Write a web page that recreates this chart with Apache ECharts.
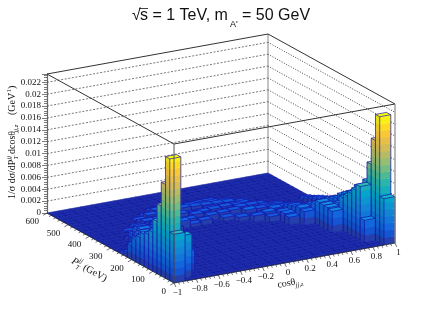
<!DOCTYPE html>
<html><head><meta charset="utf-8">
<style>html,body{margin:0;padding:0;background:#fff}#c{width:443px;height:318px}</style>
<script src="https://cdn.jsdelivr.net/npm/echarts@6/dist/echarts.min.js"></script></head>
<body><div id="c"></div>
<script>
// bin heights in units of 1e-4, index = pT bin (20 GeV each), one array per cos bin
const cosBin00=[82,205,158,118,88,66,58,54,45,37,24,8,2];
const cosBin01=[0,72,62,50,44,40,40,42,40,40,42,36,24,6];
const cosBin02=[0,0,0,34,38,38,36,34,32,30,30,30,32,32,28,16,4];
const cosBin03=[0,0,0,0,0,0,0,0,0,0,0,12,18,16,14,10,8,5,3,2];
const cosBin04=[0,0,0,0,0,0,0,0,0,0,0,0,0,10,14,12,9,11,7,5,2];
const cosBin05=[0,0,0,0,0,0,0,0,0,0,0,0,0,0,0,8,12,7,10,6,8,3,2];
const cosBin06=[0,0,0,0,0,0,0,0,0,0,0,0,0,0,0,0,9,6,11,5,8,4,7,2];
const cosBin07=[0,0,0,0,0,0,0,0,0,0,0,0,0,0,0,0,0,13,7,4,9,6,5,8,3];
const cosBin08=[0,0,0,0,0,0,0,0,0,0,0,0,0,0,0,0,0,5,9,3,10,4,7,6,3];
const cosBin09=[0,0,0,0,0,0,0,0,0,0,0,0,0,0,0,0,0,8,4,10,6,3,9,5,2];
const cosBin10=[0,0,0,0,0,0,0,0,0,0,0,0,0,0,0,0,0,0,9,5,7,3,8,6,2];
const cosBin11=[0,0,0,0,0,0,0,0,0,0,0,0,0,0,0,0,0,6,10,3,8,5,7,4,2];
const cosBin12=[0,0,0,0,0,0,0,0,0,0,0,0,0,0,0,0,7,4,11,6,9,3,6,4,2];
const cosBin13=[0,0,0,0,0,0,0,0,0,0,0,0,0,0,0,10,6,12,5,9,7,4,5,2];
const cosBin14=[0,0,0,0,0,0,0,0,0,0,0,0,0,0,9,13,7,11,6,9,5,4,2];
const cosBin15=[0,0,0,0,0,0,0,0,0,0,0,0,13,15,14,10,12,9,6,4,3];
const cosBin16=[0,0,0,0,0,0,0,0,0,0,0,23,25,22,20,15,12,8,6,3];
const cosBin17=[0,0,0,0,0,0,0,36,38,38,39,32,28,20,14,10,6,4,2];
const cosBin18=[0,0,37,90,80,70,62,55,42,36,30,24,18,13,9,6,3,2];
const cosBin19=[78,212,168,124,91,70,74,61,56,50,44,35,30,26,20,17,14,10,6,3];
const cosBins=[cosBin00,cosBin01,cosBin02,cosBin03,cosBin04,cosBin05,cosBin06,cosBin07,cosBin08,cosBin09,cosBin10,cosBin11,cosBin12,cosBin13,cosBin14,cosBin15,cosBin16,cosBin17,cosBin18,cosBin19];
const cosTicks=[-1,-0.8,-0.6,-0.4,-0.2,0,0.2,0.4,0.6,0.8,1];
const ptTicks=[0,100,200,300,400,500,600];
const zTicks=[0.002,0.004,0.006,0.008,0.01,0.012,0.014,0.016,0.018,0.02,0.022];
const zMax=0.0234, ptMax=600, nCos=20, nPt=30;

const birdR=[.2082,.0592,.0780,.0232,.1802,.5301,.8186,.9956,.9764];
const birdG=[.1664,.3599,.5041,.6419,.7178,.7492,.7328,.7862,.9832];
const birdB=[.5293,.8684,.8385,.7914,.6425,.4662,.3499,.1968,.0539];
function bird(t,f){t=Math.min(1,Math.max(0,t))*8;const i=Math.min(7,Math.floor(t)),a=t-i;
  const m=(s)=>Math.min(255,Math.round((s[i]+(s[i+1]-s[i])*a)*255*f));
  return 'rgb('+m(birdR)+','+m(birdG)+','+m(birdB)+')';}

function project(api,c,p,z){const q=api.coord([c,z]);return [q[0]-127*p/ptMax,q[1]-40*(c+1)/2-70*p/ptMax];}
const barData=[];
for(let r=nPt-1;r>=0;r--)for(let c=nCos-1;c>=0;c--)barData.push([c,r,(cosBins[c][r]||0)*1e-4]);

const EDGE='#1414a8', FLOOR='#1c2cac', FLOOREDGE='#0c1696';
function renderBar(params,api){
  const i=api.value(0),r=api.value(1),v=api.value(2);
  const dc=2/nCos,dp=ptMax/nPt,c0=-1+i*dc,c1=c0+dc,p0=r*dp,p1=p0+dp;
  const P=(c,p,z)=>project(api,c,p,z);
  const kids=[];
  if(v<=0){
    kids.push({type:'polygon',shape:{points:[P(c0,p0,0),P(c1,p0,0),P(c1,p1,0),P(c0,p1,0)]},style:{fill:FLOOR,stroke:FLOOREDGE,lineWidth:.6}});
    return {type:'group',children:kids};
  }
  const dz=zMax/20,top=Math.floor(v/dz);
  for(let k=0;k<=top;k++){
    const a=k*dz,b=Math.min(v,(k+1)*dz);const t=(k+1)/18.5;
    if(b<=a)continue;
    const cf=bird(t,1), cl=bird(t,.92);
    kids.push({type:'polygon',shape:{points:[P(c0,p1,a),P(c0,p0,a),P(c0,p0,b),P(c0,p1,b)]},style:{fill:cl,stroke:cl,lineWidth:.4}});
    kids.push({type:'polygon',shape:{points:[P(c0,p0,a),P(c1,p0,a),P(c1,p0,b),P(c0,p0,b)]},style:{fill:cf,stroke:cf,lineWidth:.4}});
  }
  const seg=(a,b,s,w)=>({type:'line',shape:{x1:a[0],y1:a[1],x2:b[0],y2:b[1]},style:{stroke:s,lineWidth:w}});
  const tt=(top+2)/18.5;
  kids.push({type:'polygon',shape:{points:[P(c0,p0,v),P(c1,p0,v),P(c1,p1,v),P(c0,p1,v)]},style:{fill:bird(tt,1.05),stroke:EDGE,lineWidth:.7}});
  kids.push(seg(P(c0,p1,0),P(c0,p1,v),EDGE,.7));
  kids.push(seg(P(c0,p0,0),P(c0,p0,v),EDGE,.7));
  kids.push(seg(P(c1,p0,0),P(c1,p0,v),EDGE,.7));
  return {type:'group',children:kids};
}
function line(a,b,s,w,dash){return {type:'line',shape:{x1:a[0],y1:a[1],x2:b[0],y2:b[1]},style:{stroke:s,lineWidth:w,lineDash:dash||null}};}
function text(t,x,y,font,o){o=o||{};const rot=o.rot||0;
  if(o.va)return {type:'text',x:x,y:y,rotation:rot,style:{text:t,font:font,fill:o.fill||'#111',align:o.align||'left',verticalAlign:o.va}};
  const size=parseFloat(font.match(/([\d.]+)px/)[1]),d=.22*size;
  return {type:'text',x:x+d*Math.sin(rot),y:y+d*Math.cos(rot),rotation:rot,style:{text:t,font:font,fill:o.fill||'#111',align:o.align||'left',verticalAlign:'bottom'}};}
function renderBack(params,api){
  const P=(c,p,z)=>project(api,c,p,z);const kids=[];
  zTicks.forEach(z=>{
    kids.push(line(P(-1,ptMax,z),P(1,ptMax,z),'#555',.8,[2,1.6]));
    kids.push(line(P(1,ptMax,z),P(1,0,z),'#222',.85,[1,1.6]));
  });
  kids.push(line(P(1,ptMax,0),P(1,ptMax,zMax),'#888',1));
  kids.push(line(P(-1,ptMax,zMax),P(1,ptMax,zMax),'#333',1));
  kids.push(line(P(1,ptMax,zMax),P(1,0,zMax),'#333',1));
  return {type:'group',children:kids};
}
function renderFront(params,api){
  const P=(c,p,z)=>project(api,c,p,z);const kids=[];
  const SERIF='9px "Liberation Serif"', T='10px "Liberation Serif"', S='6.5px "Liberation Serif"';
  kids.push(line(P(-1,ptMax,zMax),P(-1,0,zMax),'#333',1));
  kids.push(line(P(-1,0,zMax),P(1,0,zMax),'#333',1));
  kids.push(line(P(-1,0,0),P(-1,0,zMax),'#555',1));
  kids.push(line(P(1,0,0),P(1,0,zMax),'#888',1.2));
  kids.push(line(P(-1,0,0),P(1,0,0),'#222',.7));
  kids.push(line(P(-1,0,0),P(-1,ptMax,0),'#222',.7));
  // cos axis
  for(let k=0;k<=50;k++){const c=-1+k*0.04,a=P(c,0,0),L=k%5===0?4.4:2.6;
    kids.push(line(a,[a[0]+L*.42,a[1]+L*.9],'#333',.7));}
  cosTicks.forEach(c=>{const a=P(c,0,0);kids.push(text(String(c).replace('-','\u2212'),a[0]+3.5,a[1]+10,SERIF,{align:'center',va:'middle'}));});
  // pT axis
  for(let k=0;k<=30;k++){const p=k*20,a=P(-1,p,0),L=k%5===0?4.4:2.6;
    kids.push(line(a,[a[0]-L*.85,a[1]+L*.5],'#333',.7));}
  ptTicks.forEach(p=>{const a=P(-1,p,0);kids.push(text(String(p),a[0]-8,a[1]+8.5,SERIF,{align:'right',va:'middle'}));});
  // axis titles
  const rp=-29*Math.PI/180,cp=Math.cos(rp),sp=-Math.sin(rp);
  const al=(d,n)=>[71+d*cp-n*sp,263+d*sp+n*cp];
  let q=al(0,0);kids.push(text('P',q[0],q[1],'italic 10px "Liberation Serif"',{rot:rp}));
  q=al(6,-4.5);kids.push(text('jj',q[0],q[1],'italic '+S,{rot:rp}));
  q=al(6,3);kids.push(text('T',q[0],q[1],'italic '+S,{rot:rp}));
  q=al(13,0);kids.push(text('(GeV)',q[0],q[1],T,{rot:rp}));
  const rc=10*Math.PI/180,cc=Math.cos(rc),sc=Math.sin(rc);
  const ac=(d,n)=>[278+d*cc+n*sc,288-d*sc+n*cc];
  q=ac(0,0);kids.push(text('cos\u03b8',q[0],q[1],T,{rot:rc}));
  q=ac(18,2.5);kids.push(text('jj,z',q[0],q[1],'italic '+S,{rot:rc}));
  const rz=Math.PI/2,X=15.5;
  kids.push(text('1/\u03c3 d\u03c3/dP',X,199,T,{rot:rz}));
  kids.push(text('jj',X-4.5,159.5,'italic '+S,{rot:rz}));
  kids.push(text('T',X+2.5,159.5,'italic '+S,{rot:rz}));
  kids.push(text('dcos\u03b8',X,154,T,{rot:rz}));
  kids.push(text('jj,z',X+2.5,132.5,'italic '+S,{rot:rz}));
  kids.push(text('(GeV',X,115,T,{rot:rz}));
  kids.push(text('\u22121',X-4,96,'6.5px "Liberation Serif"',{rot:rz}));
  kids.push(text(')',X,89,T,{rot:rz}));
  // title
  const H='16px "Liberation Sans"';
  kids.push(text('\u221a',132,20,H));
  kids.push(line([139,8.5],[148,8.5],'#111',.8));
  kids.push(text('s = 1 TeV, m',140,20,H));
  kids.push(text("A'",230,27,'9px "Liberation Sans"'));
  kids.push(text('= 50 GeV',242,20,H));
  return {type:'group',children:kids};
}
const chart=echarts.init(document.getElementById('c'),null,{renderer:'canvas'});
chart.setOption({
  animation:false,
  grid:[{left:47,top:74,width:100,height:139},{left:174,top:144,width:221,height:139}],
  xAxis:[{gridIndex:0,show:false,type:'value',min:0,max:1},{gridIndex:1,show:false,type:'value',min:-1,max:1}],
  yAxis:[{gridIndex:0,type:'value',min:0,max:zMax,interval:0.002,position:'left',
      splitLine:{show:false},
      axisLine:{show:true,lineStyle:{color:'#666',width:1.2}},
      axisTick:{show:true,length:5,lineStyle:{color:'#444',width:.7}},
      minorTick:{show:true,splitNumber:5,length:3,lineStyle:{color:'#444',width:.7}},
      axisLabel:{margin:6,fontFamily:'Liberation Serif',fontSize:9,color:'#111',showMaxLabel:false,
        formatter:v=>v>0.023?'':String(Number(v.toFixed(3)))}},
    {gridIndex:1,show:false,type:'value',min:0,max:zMax}],
  series:[
    {type:'custom',xAxisIndex:1,yAxisIndex:1,clip:false,silent:true,data:[[0,0]],renderItem:renderBack,z:1},
    {type:'custom',xAxisIndex:1,yAxisIndex:1,clip:false,silent:true,data:barData,renderItem:renderBar,z:2,progressive:0,encode:{x:0,y:2}},
    {type:'custom',xAxisIndex:1,yAxisIndex:1,clip:false,silent:true,data:[[0,0]],renderItem:renderFront,z:3}
  ]
});
</script></body></html>
